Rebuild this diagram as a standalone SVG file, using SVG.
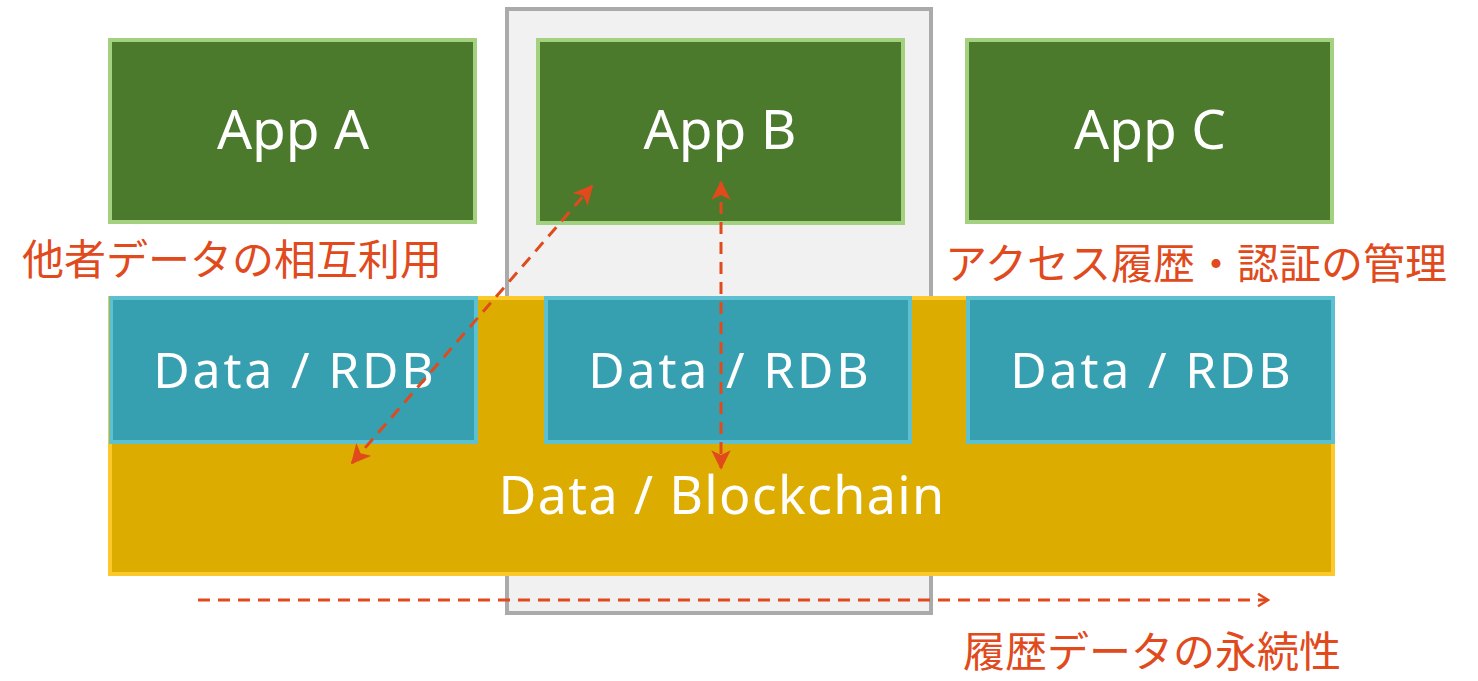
<svg xmlns="http://www.w3.org/2000/svg" width="1478" height="681" viewBox="0 0 1478 681">
<defs>
<style>
.app{fill:#4c7a2c;stroke:#a3d17f;stroke-width:4}
.rdb{fill:#37a0b0;stroke:#5cc0d0;stroke-width:4}
.bc{fill:#dcad00;stroke:#fbc92a;stroke-width:4}
.frame{fill:#f1f1f1;stroke:#aaaaaa;stroke-width:4}
.t{font-family:"Noto Sans","Open Sans",sans-serif;fill:#ffffff;text-anchor:middle}
.lbl{font-family:"Noto Sans CJK JP",sans-serif;fill:#e04a1c;font-size:42px}
.c{fill:none;stroke:#e04a1c;stroke-width:3;stroke-dasharray:12 8}
</style>
<marker id="ah" viewBox="0 0 12 12" refX="11" refY="6" markerWidth="6.5" markerHeight="6.5" markerUnits="strokeWidth" orient="auto-start-reverse">
<path d="M0,0 L12,6 L0,12 L3,6 Z" fill="#e04a1c"/>
</marker>
<marker id="ch" viewBox="0 0 12 12" refX="10" refY="6" markerWidth="5" markerHeight="5" markerUnits="strokeWidth" orient="auto">
<path d="M2,1 L10,6 L2,11" fill="none" stroke="#e04a1c" stroke-width="2"/>
</marker>
</defs>
<rect width="1478" height="681" fill="#ffffff"/>
<g id="frameB"><rect class="frame" x="507" y="9" width="424" height="604"/></g>
<g id="appA"><rect class="app" x="110" y="40" width="365" height="182"/><text class="t" x="293" y="149" font-size="55">App A</text></g>
<g id="appB"><rect class="app" x="538" y="40" width="365" height="183"/><text class="t" x="720" y="149" font-size="55">App B</text></g>
<g id="appC"><rect class="app" x="967" y="40" width="365" height="182"/><text class="t" x="1150" y="149" font-size="55">App C</text></g>
<g id="blockchain"><rect class="bc" x="110" y="298" width="1223" height="276"/><text class="t" x="722" y="514" font-size="52" letter-spacing="1.3">Data / Blockchain</text></g>
<g id="rdbA"><rect class="rdb" x="111" y="298" width="365" height="144"/><text class="t" x="295" y="388" font-size="50" letter-spacing="2.8">Data / RDB</text></g>
<g id="rdbB"><rect class="rdb" x="546" y="298" width="364" height="144"/><text class="t" x="730" y="388" font-size="50" letter-spacing="2.8">Data / RDB</text></g>
<g id="rdbC"><rect class="rdb" x="968" y="298" width="365" height="144"/><text class="t" x="1152" y="388" font-size="50" letter-spacing="2.8">Data / RDB</text></g>
<g id="labels">
<text class="lbl" x="22" y="275">他者データの相互利用</text>
<text class="lbl" x="945" y="279">アクセス履歴・認証の管理</text>
<text class="lbl" x="963" y="667">履歴データの永続性</text>
</g>
<g id="connectors">
<line class="c" x1="352" y1="463" x2="592" y2="186" marker-start="url(#ah)" marker-end="url(#ah)"/>
<line class="c" x1="721" y1="182" x2="721" y2="468" marker-start="url(#ah)" marker-end="url(#ah)"/>
<line class="c" x1="198" y1="600" x2="1268" y2="600" marker-end="url(#ch)"/>
</g>
</svg>
